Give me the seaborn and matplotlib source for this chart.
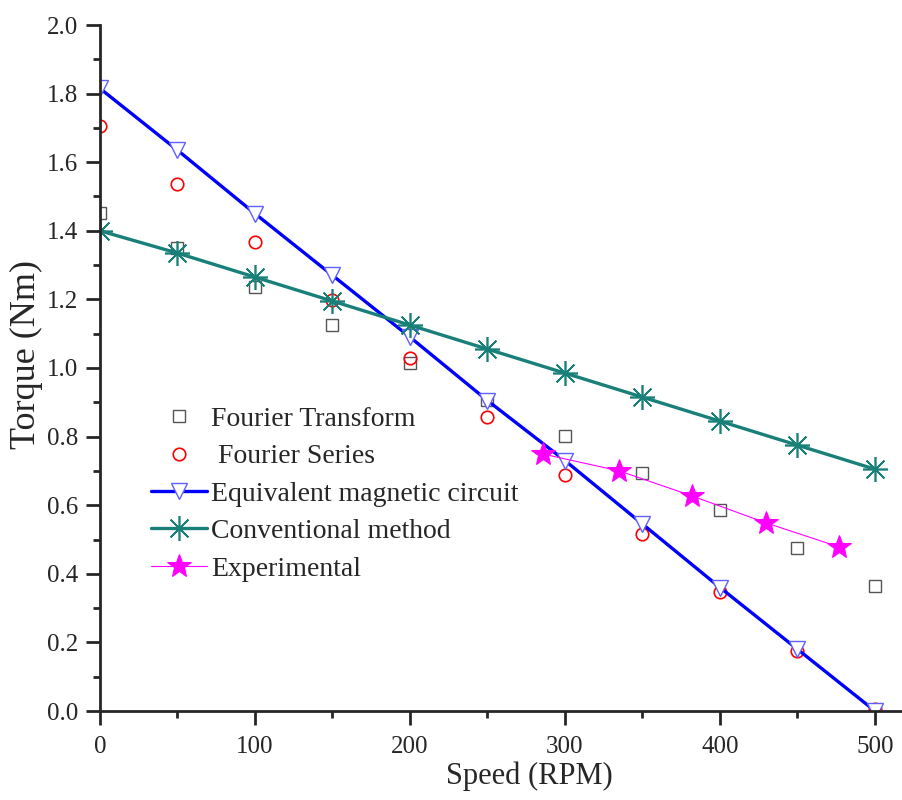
import numpy as np
import pandas as pd
import matplotlib
matplotlib.use("Agg")
import matplotlib.pyplot as plt
import seaborn as sns

speed = [0, 50, 100, 150, 200, 250, 300, 350, 400, 450, 500]
fourier_transform = [1.452, 1.35, 1.236, 1.125, 1.015, 0.907, 0.802, 0.694, 0.586, 0.475, 0.364]
fourier_series = [1.706, 1.536, 1.367, 1.198, 1.029, 0.857, 0.688, 0.516, 0.347, 0.175, 0.006]
equivalent = [1.815, 1.635, 1.45, 1.27, 1.09, 0.905, 0.73, 0.545, 0.36, 0.18, 0.0]
conventional = [1.40, 1.335, 1.265, 1.195, 1.125, 1.055, 0.985, 0.915, 0.845, 0.775, 0.705]

exp_speed = [286, 335, 382, 430, 477]
experimental = [0.749, 0.70, 0.627, 0.548, 0.478]

df = pd.DataFrame({"speed": speed, "ft": fourier_transform, "fs": fourier_series,
                   "emc": equivalent, "conv": conventional})
df_exp = pd.DataFrame({"speed": exp_speed, "torque": experimental})

sns.set_style("ticks")
plt.rcParams["font.family"] = ["Liberation Serif", "DejaVu Serif"]

fig = plt.figure(figsize=(9.03, 8), dpi=100)
ax = fig.add_axes([100 / 903, 89 / 800, 806 / 903, 686 / 800])

sns.lineplot(data=df, x="speed", y="ft", ax=ax, linestyle="none", marker="s",
             markersize=8.5, markerfacecolor="none", markeredgecolor="#555555",
             markeredgewidth=1.0, color="#555555", label="Fourier Transform")
sns.lineplot(data=df, x="speed", y="fs", ax=ax, linestyle="none", marker="o",
             markersize=9, markerfacecolor="none", markeredgecolor="#ff0000",
             markeredgewidth=1.2, color="#ff0000", label=" Fourier Series")
sns.lineplot(data=df, x="speed", y="emc", ax=ax, color="#0000ff", linewidth=2.4,
             marker="v", markersize=12, markerfacecolor="white",
             markeredgecolor="#6060ff", markeredgewidth=1.0,
             label="Equivalent magnetic circuit")
sns.lineplot(data=df, x="speed", y="conv", ax=ax, color="#188078", linewidth=2.4,
             marker=(8, 2, 0), markersize=18, markeredgecolor="#188078",
             markeredgewidth=1.2, label="Conventional method")
sns.lineplot(data=df_exp, x="speed", y="torque", ax=ax, color="#ff00ff", linewidth=0.8,
             marker="*", markersize=18, markeredgecolor="#ff00ff",
             label="Experimental")

ax.set_xlim(0, 520)
ax.set_ylim(0, 2.0)
ax.set_xticks([0, 100, 200, 300, 400, 500])
ax.set_xticks([50, 150, 250, 350, 450], minor=True)
ax.set_yticks(np.arange(0, 2.01, 0.2))
ax.set_yticks(np.arange(0.1, 2.0, 0.2), minor=True)
ax.yaxis.set_major_formatter(matplotlib.ticker.FormatStrFormatter("%.1f"))
ax.tick_params(axis="both", which="major", length=10, width=2, labelsize=18)
ax.tick_params(axis="y", which="major", pad=6)
ax.tick_params(axis="x", which="major", pad=8)
ax.tick_params(axis="both", which="minor", length=5, width=2)

for s in ["top", "right"]:
    ax.spines[s].set_visible(False)
for s in ["left", "bottom"]:
    ax.spines[s].set_linewidth(2)

ax.set_xlabel("Speed (RPM)", fontsize=22)
ax.set_ylabel("Torque (Nm)", fontsize=26)
ax.xaxis.set_label_coords(0.533, -0.074)
ax.yaxis.set_label_coords(-0.071, 0.519)

ax.legend(loc="upper left", bbox_to_anchor=(0.05, 0.46), frameon=False,
          fontsize=20, handlelength=2.0, handletextpad=0.15, labelspacing=0.43,
          borderaxespad=0)

fig.savefig("out.png", dpi=100)
